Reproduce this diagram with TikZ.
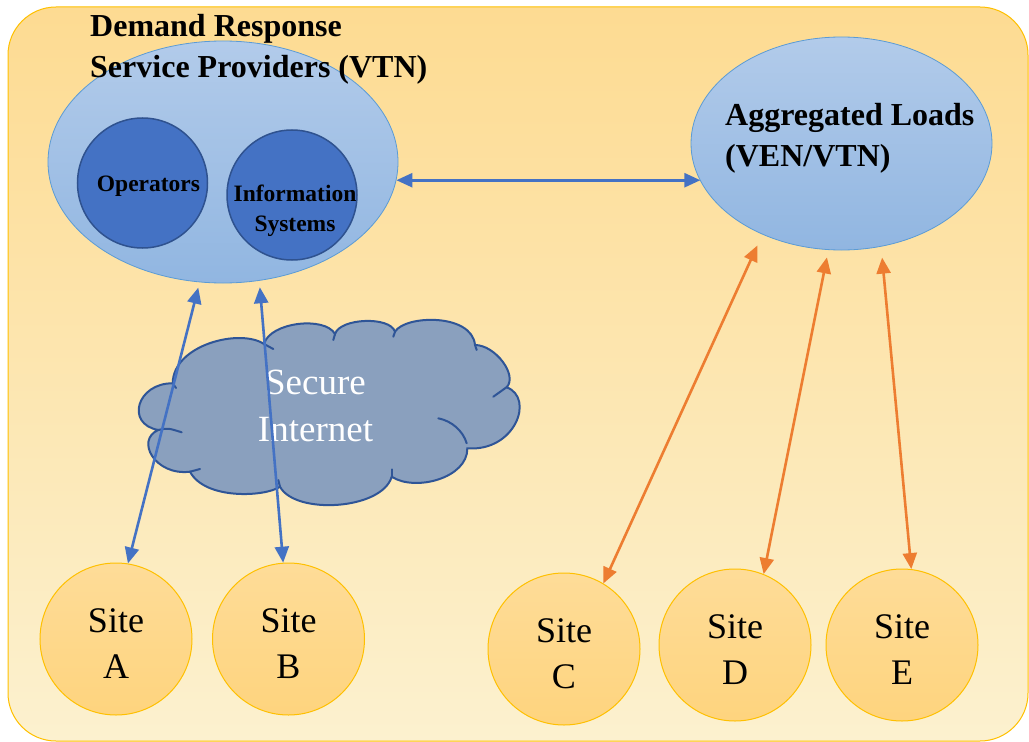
\documentclass[tikz,border=0pt]{standalone}
\usepackage{fontspec}
\setmainfont{Liberation Serif}
\usetikzlibrary{arrows.meta,shapes.geometric}
\definecolor{bgtop}{RGB}{253,219,146}
\definecolor{bgbot}{RGB}{252,241,207}
\definecolor{bgline}{RGB}{255,192,0}
\definecolor{elltop}{RGB}{178,203,234}
\definecolor{ellbot}{RGB}{145,182,225}
\definecolor{ellline}{RGB}{91,155,213}
\definecolor{darkblue}{RGB}{68,114,196}
\definecolor{darkline}{RGB}{47,82,143}
\definecolor{cloudfill}{RGB}{138,160,190}
\definecolor{cloudline}{RGB}{47,85,151}
\definecolor{orangeline}{RGB}{237,125,49}
\definecolor{sitetop}{RGB}{254,220,152}
\definecolor{sitebot}{RGB}{254,212,126}
\newcommand\fTitle{\bfseries\fontsize{32bp}{41bp}\selectfont}
\newcommand\fInner{\bfseries\fontsize{23.5bp}{30bp}\selectfont}
\newcommand\fSite{\fontsize{36bp}{46bp}\selectfont}
\newcommand\fCloud{\fontsize{37bp}{47bp}\selectfont}
\newcommand\sitelift{\rule{0pt}{33bp}}
\begin{document}
\begin{tikzpicture}[x=1bp,y=-1bp,
  bigell/.style={ellipse, draw=ellline, line width=0.8bp, top color=elltop, bottom color=ellbot, inner sep=0pt},
  innercirc/.style={circle, draw=darkline, line width=1.5bp, fill=darkblue, inner sep=0pt, minimum size=130bp},
  sitecirc/.style={circle, draw=bgline, line width=1bp, top color=sitetop, bottom color=sitebot, inner sep=0pt, minimum size=152bp, align=center, font=\fSite},
  blink/.style={draw=darkblue, line width=2.6bp, {Triangle[length=16bp,width=14bp]}-{Triangle[length=16bp,width=14bp]}},
  olink/.style={draw=orangeline, line width=2.6bp, {Triangle[length=16bp,width=14bp]}-{Triangle[length=16bp,width=14bp]}},
  lbl/.style={inner sep=0pt},
  cloudedge/.style={draw=cloudline, line width=2bp, line cap=round},
]
\useasboundingbox (0,0) rectangle (1029,742);
% background
\path[draw=bgline, line width=1bp, top color=bgtop, bottom color=bgbot, rounded corners=48bp]
  (8,7) rectangle (1028,741);
% VTN ellipse
\node[bigell, minimum width=350bp, minimum height=242bp] (vtn) at (223,162) {};
\node[innercirc] (ops) at (142.5,183) {};
\node[innercirc] (info) at (292,195) {};
\node[lbl, font=\fInner] (opstxt) at (148.5,186) {Operators};
\node[lbl, font=\fInner, align=center] (infotxt) at (295,211) {Information\\Systems};
% aggregated loads
\node[bigell, minimum width=301bp, minimum height=213bp] (agg) at (841.5,143.5) {};
\node[lbl, font=\fTitle, align=left, anchor=west] (aggtxt) at (725,138.5) {Aggregated Loads\\(VEN/VTN)};
% cloud
\path[cloudedge, fill=cloudfill]
  (172.7,383.3) .. controls (173,345) and (240,328) .. (264,344)
  .. controls (270,322) and (325,316) .. (335,334)
  .. controls (340,318) and (390,316) .. (395,331.7)
  .. controls (405,315) and (472,313) .. (475,345)
  .. controls (495,345) and (518,375) .. (506.7,387.3)
  .. controls (535,398) and (515,452) .. (467.3,448.3)
  .. controls (468,478) and (415,492) .. (391.7,476.7)
  .. controls (382,510) and (295,515) .. (280,486.7)
  .. controls (265,497) and (205,500) .. (190,471.7)
  .. controls (155,476) and (135,440) .. (158.3,430)
  .. controls (125,424) and (137,383) .. (172.7,383.3) -- cycle;
\draw[cloudedge] (172.7,383.3) .. controls (174,385) .. (176,388);
\draw[cloudedge] (158.3,430) .. controls (168,428) .. (181.7,432.3);
\draw[cloudedge] (190,471.7) .. controls (195,470) .. (200,469);
\draw[cloudedge] (280,486.7) .. controls (280,483) .. (278.3,480);
\draw[cloudedge] (391.7,476.7) .. controls (392,473) .. (391.7,469.3);
\draw[cloudedge] (438.3,418.3) .. controls (452,421) and (463,431) .. (466.7,443.3);
\draw[cloudedge] (493.3,396.7) .. controls (501,392) .. (507.3,386.7);
\draw[cloudedge] (475,345) .. controls (476,347) .. (476.7,350);
\draw[cloudedge] (395,331.7) .. controls (394,334) .. (393.3,336.7);
\draw[cloudedge] (335,334) .. controls (334,337) .. (333.3,340);
\draw[cloudedge] (264,344) .. controls (268,346) .. (273.3,349);
\node[lbl, font=\fCloud, text=white, align=center] (cloudtxt) at (315.5,406) {Secure\\Internet};
% sites
\node[sitecirc] (siteA) at (116,639) {\sitelift Site\\A};
\node[sitecirc] (siteB) at (288.5,639) {\sitelift Site\\B};
\node[sitecirc] (siteC) at (564,649) {\sitelift Site\\C};
\node[sitecirc] (siteD) at (735,645) {\sitelift Site\\D};
\node[sitecirc] (siteE) at (902,645) {\sitelift Site\\E};
% title
\node[lbl, font=\fTitle, align=left, anchor=west] (title) at (90,49) {Demand Response\\Service Providers (VTN)};
% connectors
\draw[blink] (vtn.-6) -- (agg.195 |- vtn.-6);
\draw[blink, shorten >=5.5bp] (siteA.81) -- (vtn.259);
\draw[blink, shorten >=6.5bp] (siteB.94) -- (vtn.287);
\draw[olink, shorten >=12bp] (siteC.59) -- (agg.229);
\draw[olink, shorten >=7.5bp] (siteD.68) -- (agg.263.5);
\draw[olink, shorten >=11bp] (siteE.83) -- (agg.291.6);
\end{tikzpicture}
\end{document}
